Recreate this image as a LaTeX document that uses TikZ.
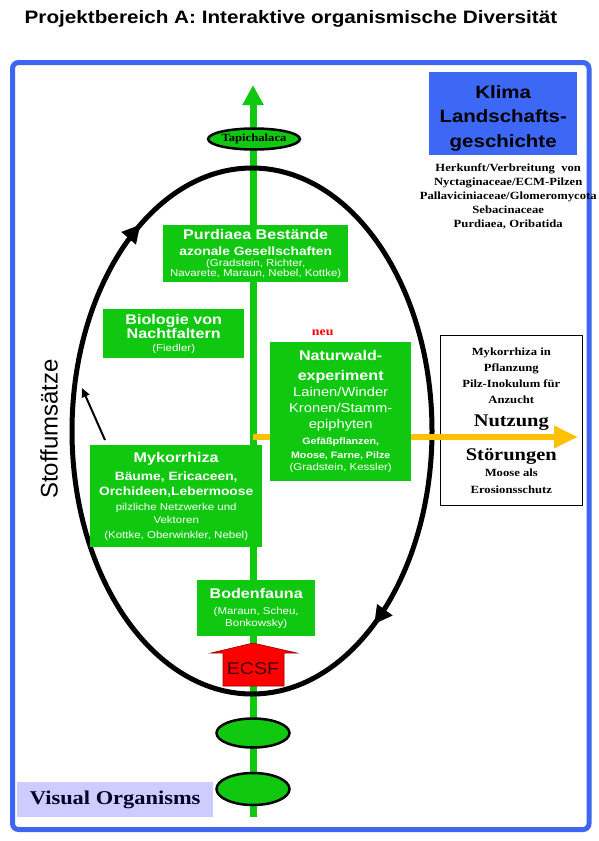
\documentclass[tikz,border=0pt]{standalone}
\usepackage{fontspec}
\setmainfont{Liberation Sans}[FakeStretch=1.15]
\newfontfamily\serifwide{Liberation Serif}[FakeStretch=1.15]
\newfontfamily\sansplain{Liberation Sans}
\usepackage{xcolor}
\usepackage{tikz}
\usetikzlibrary{positioning, arrows.meta, shapes.geometric, decorations.markings}
\definecolor{frameBlue}{HTML}{3F66F0}
\definecolor{klimaBlue}{HTML}{3D68F5}
\definecolor{boxGreen}{HTML}{11C811}
\definecolor{flowOrange}{HTML}{FFC000}
\definecolor{ecsfRed}{HTML}{FF0000}
\definecolor{labelLilac}{HTML}{CCCCFF}
\newcommand{\headfont}{\fontsize{14}{14}\selectfont\bfseries}
\newcommand{\subfont}{\fontsize{12}{12}\selectfont\bfseries}
\newcommand{\midfont}{\fontsize{12.8}{13}\selectfont}
\newcommand{\notefont}{\serifwide\fontsize{11}{14}\selectfont\bfseries}

\begin{document}
\begin{tikzpicture}[x=1pt, y=-1pt, font=\fontsize{10}{11}\selectfont,
  greenbox/.style={fill=boxGreen, text=white, align=center, inner sep=0pt, anchor=north west},
  pod/.style={ellipse, draw=black, line width=2.5pt, fill=boxGreen, inner sep=0pt},
  cycleline/.style={line width=5pt, postaction=decorate, decoration={markings,
    mark=at position 0.146 with {\arrow{Triangle[length=18pt, width=18pt]}},
    mark=at position 0.658 with {\arrow{Triangle[length=18pt, width=18pt]}}}}]
\useasboundingbox (0,0) rectangle (598,841);

\node[font=\fontsize{18}{18}\selectfont\bfseries, anchor=base] (title) at (291,23)
  {Projektbereich A: Interaktive organismische Diversität};
\draw[frameBlue, line width=5pt, rounded corners=6pt] (12.5,62.5) rectangle (589,829.5);

% axis and cycle
\coordinate (axisFoot) at (253,817);
\coordinate (axisTip) at (253,85);
\draw[boxGreen, line width=7pt, -{Triangle[length=20pt, width=20pt]}] (axisFoot) -- (axisTip);
\draw[cycleline] (252,431) ellipse [x radius=180, y radius=263];
\node[pod, minimum width=76pt, minimum height=21pt,
  font=\serifwide\fontsize{11}{11}\selectfont\bfseries] (tapichalaca) at (254,139) {Tapichalaca};
\node[pod, minimum width=73pt, minimum height=29pt] (lowerPod) at (253,733) {};
\node[pod, minimum width=73pt, minimum height=32pt] (lowestPod) at (253,789) {};

\node[rotate=90, font=\sansplain\fontsize{24}{24}\selectfont] (stoff) at (49,429) {Stoffumsätze};
\coordinate (riseFoot) at (105,440);
\coordinate (riseTip) at (82,388);
\draw[line width=2pt, -{Triangle[length=9pt, width=8pt]}] (riseFoot) -- (riseTip);

% right side
\node[fill=klimaBlue, align=center, inner sep=0pt, anchor=north west, minimum width=148pt,
  minimum height=83pt, font=\fontsize{17.8}{24.5}\selectfont\bfseries] (klima) at (429,72)
  {\rule{0pt}{22pt}Klima\\Landschafts-\\geschichte};
\node[below=8pt of klima, xshift=5pt, align=center, inner sep=0pt, font=\notefont] (klimaNotes)
  {Herkunft/Verbreitung\ \ von\\Nyctaginaceae/ECM-Pilzen\\Pallaviciniaceae/Glomeromycota\\Sebacinaceae\\Purdiaea, Oribatida};
\node[draw=black, line width=0.6pt, fill=white, align=center, inner sep=0pt, anchor=north west,
  minimum width=142pt, minimum height=170pt, font=\serifwide\fontsize{11}{16}\selectfont\bfseries] (nutzung) at (440,335)
  {Mykorrhiza in\\Pflanzung\\Pilz-Inokulum für\\Anzucht\\[7pt]{\fontsize{17.8}{18}\selectfont Nutzung}\\[18pt]{\fontsize{17.8}{18}\selectfont Störungen}\\Moose als\\[1pt]Erosionsschutz};
\coordinate (flowStart) at (253,437);
\coordinate (flowTip) at (578,437);
\draw[flowOrange, line width=6pt, -{Triangle[length=24pt, width=21pt]}] (flowStart) -- (flowTip);

% green boxes
\node[greenbox, minimum width=185pt, minimum height=57pt] (purdiaea) at (163,225)
  {{\headfont Purdiaea Bestände}\\[5pt]{\subfont azonale Gesellschaften}\\(Gradstein, Richter,\\[-1pt]Navarete, Maraun, Nebel, Kottke)};
\node[greenbox, minimum width=141pt, minimum height=49pt] (nachtfalter) at (103,309)
  {{\headfont Biologie von}\\{\headfont Nachtfaltern}\\[2pt](Fiedler)};
\node[greenbox, minimum width=141pt, minimum height=139pt] (naturwald) at (270,342)
  {{\headfont Naturwald-}\\[9pt]{\headfont experiment}\\[3pt]{\midfont Lainen/Winder}\\[5pt]{\midfont Kronen/Stamm-}\\[5pt]{\midfont epiphyten}\\[5pt]{\fontsize{9.3}{10}\selectfont\bfseries Gefäßpflanzen,}\\[3pt]{\fontsize{9.3}{10}\selectfont\bfseries Moose, Farne, Pilze}\\[1pt](Gradstein, Kessler)};
\node[above=3pt of naturwald, xshift=-18pt, text=red, font=\serifwide\fontsize{12}{12}\selectfont\bfseries] (neu) {neu};
\node[greenbox, minimum width=172pt, minimum height=102pt] (mykorrhiza) at (90,445)
  {{\headfont Mykorrhiza}\\[5pt]{\subfont Bäume, Ericaceen,}\\[4pt]{\subfont Orchideen,Lebermoose}\\[4pt]pilzliche Netzwerke und\\[2pt]Vektoren\\[4pt](Kottke, Oberwinkler, Nebel)};
\node[greenbox, minimum width=118pt, minimum height=56pt] (bodenfauna) at (197,580)
  {{\headfont Bodenfauna}\\[5pt](Maraun, Scheu,\\[1pt]Bonkowsky)};

% ECSF arrow
\draw[fill=ecsfRed, draw=red!60!black, line width=0.6pt] (223,686) -- (223,653) -- (211,653) -- (253,643)
  -- (297,653) -- (284,653) -- (284,686) -- cycle;
\node[text=red!25!black, font=\fontsize{17}{17}\selectfont] (ecsf) at (253,669) {ECSF};

\node[fill=labelLilac, anchor=north west, inner sep=0pt, minimum width=196pt, minimum height=35pt,
  text=black!85!blue, font=\serifwide\fontsize{19.5}{19.5}\selectfont\bfseries] (visual) at (17,782) {Visual Organisms};
\end{tikzpicture}
\end{document}
